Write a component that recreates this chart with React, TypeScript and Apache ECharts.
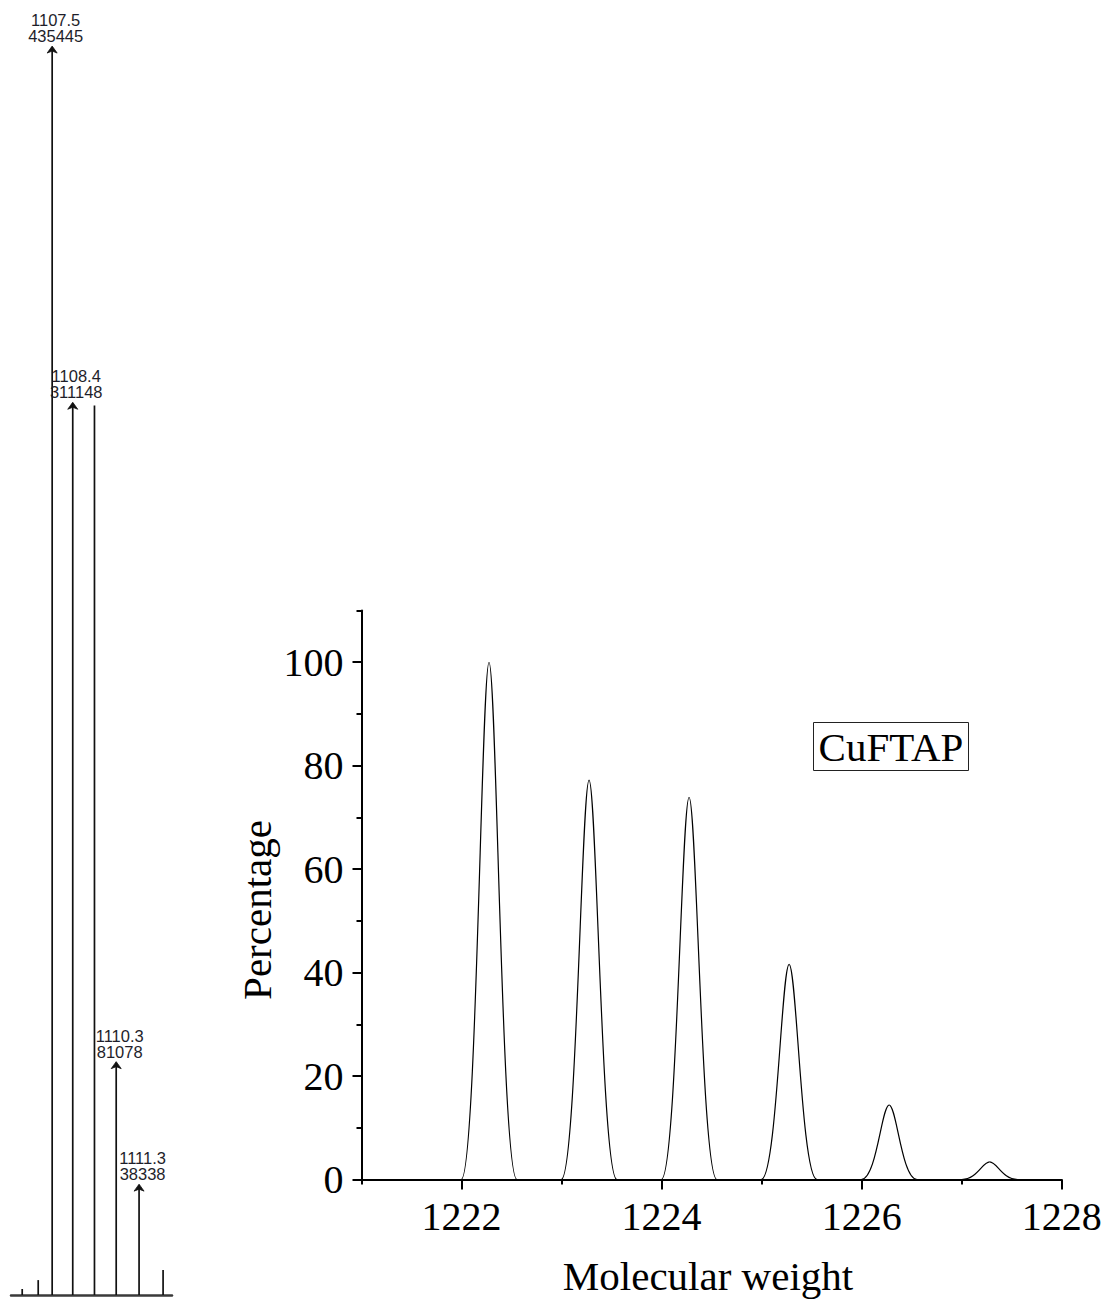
import React, { useEffect, useRef } from "react";
import * as echarts from "echarts";

// ---- Left panel: measured mass spectrum (stick plot) ----
const SPEC_MZ = [1106.19, 1106.89, 1107.5, 1108.4, 1109.35, 1110.3, 1111.3, 1112.35];
const SPEC_INTENSITY = [2100, 5200, 435445, 311148, 310400, 81078, 38338, 8700];
const SPEC_ANNOTATED = [false, false, true, true, false, true, true, false];

// ---- Right panel: simulated isotope pattern ----
const PEAK_MW = [1222.275, 1223.275, 1224.275, 1225.275, 1226.275, 1227.28];
const PEAK_PCT = [100, 77.2, 73.9, 41.6, 14.4, 3.4];

const X_MAJOR = [1222, 1224, 1226, 1228];
const X_MINOR = [1221, 1223, 1225, 1227];
const Y_MAJOR = [0, 20, 40, 60, 80, 100];
const Y_MINOR = [10, 30, 50, 70, 90, 110];

const X_NAME = "Molecular weight";
const Y_NAME = "Percentage";
const COMPOUND = "CuFTAP";

const PEAK_SIGMA = 0.093;
const SERIF = '"Liberation Serif", "Times New Roman", serif';
const SANS = '"Liberation Sans", Arial, sans-serif';

export default function App() {
  const ref = useRef<HTMLDivElement>(null);

  useEffect(() => {
    if (!ref.current) return;
    const chart = echarts.init(ref.current, undefined, { renderer: "svg" });

    const specData = SPEC_MZ.map((m, i) => [m, SPEC_INTENSITY[i]]);
    const peakData = PEAK_MW.map((m, i) => [m, PEAK_PCT[i]]);

    const option: any = {
      animation: false,
      backgroundColor: "#fff",
      grid: [
        { left: 11, width: 161, top: 34, height: 1261, outerBoundsMode: "none" },
        { left: 361.5, right: 48.3, top: 610.5, bottom: 125.5, outerBoundsMode: "none" },
      ],
      xAxis: [
        {
          gridIndex: 0,
          type: "value",
          min: 1105.7,
          max: 1112.74,
          axisLine: { show: true, onZero: false, lineStyle: { color: "#3a3a3a", width: 2.5 } },
          axisTick: { show: false },
          axisLabel: { show: false },
          splitLine: { show: false },
        },
        {
          gridIndex: 1,
          type: "value",
          position: "bottom",
          min: 1221,
          max: 1228,
          axisLine: { show: true, onZero: false, lineStyle: { color: "#000", width: 2 } },
          axisTick: {
            show: true,
            inside: false,
            length: 10,
            customValues: X_MAJOR,
            lineStyle: { color: "#000", width: 2 },
          },
          axisLabel: {
            show: true,
            customValues: X_MAJOR,
            formatter: (v: number) => String(v),
            margin: 17,
            fontFamily: SERIF,
            fontSize: 40,
            color: "#000",
          },
          splitLine: { show: false },
        },
        {
          gridIndex: 1,
          type: "value",
          position: "bottom",
          min: 1221,
          max: 1228,
          axisLine: { show: false },
          axisTick: {
            show: true,
            inside: false,
            length: 5,
            customValues: X_MINOR,
            lineStyle: { color: "#000", width: 2 },
          },
          axisLabel: { show: false },
          splitLine: { show: false },
        },
      ],
      yAxis: [
        {
          gridIndex: 0,
          type: "value",
          min: 0,
          max: 440000,
          show: false,
        },
        {
          gridIndex: 1,
          type: "value",
          position: "left",
          min: 0,
          max: 110,
          axisLine: { show: true, onZero: false, lineStyle: { color: "#000", width: 2 } },
          axisTick: {
            show: true,
            inside: false,
            length: 9,
            customValues: Y_MAJOR,
            lineStyle: { color: "#000", width: 2 },
          },
          axisLabel: {
            show: true,
            customValues: Y_MAJOR,
            formatter: (v: number) => String(v),
            margin: 18,
            fontFamily: SERIF,
            fontSize: 40,
            color: "#000",
          },
          splitLine: { show: false },
        },
        {
          gridIndex: 1,
          type: "value",
          position: "left",
          min: 0,
          max: 110,
          axisLine: { show: false },
          axisTick: {
            show: true,
            inside: false,
            length: 5,
            customValues: Y_MINOR,
            lineStyle: { color: "#000", width: 2 },
          },
          axisLabel: { show: false },
          splitLine: { show: false },
        },
      ],
      series: [
        {
          type: "custom",
          xAxisIndex: 0,
          yAxisIndex: 0,
          silent: true,
          encode: { x: 0, y: 1 },
          data: specData,
          renderItem: (params: any, api: any) => {
            const mz = api.value(0);
            const inten = api.value(1);
            const base = api.coord([mz, 0]);
            const top = api.coord([mz, inten]);
            const children: any[] = [
              {
                type: "line",
                shape: { x1: base[0], y1: base[1], x2: top[0], y2: top[1] },
                style: { stroke: "#111", lineWidth: 1.7 },
              },
            ];
            if (SPEC_ANNOTATED[params.dataIndex]) {
              const tx = top[0];
              const ty = top[1];
              children.push({
                type: "polygon",
                shape: {
                  points: [
                    [tx, ty - 1],
                    [tx - 5, ty + 6],
                    [tx, ty + 4],
                    [tx + 5, ty + 6],
                  ],
                },
                style: { fill: "#111", stroke: "#111", lineWidth: 0.8 },
              });
              children.push({
                type: "text",
                x: tx + 3.5,
                y: ty - 3,
                style: {
                  text: mz.toFixed(1) + "\n" + String(inten),
                  font: "16.5px " + SANS,
                  fill: "#1e1e2a",
                  textAlign: "center",
                  textVerticalAlign: "bottom",
                  lineHeight: 16,
                },
              });
            }
            return { type: "group", children };
          },
        },
        {
          type: "custom",
          xAxisIndex: 1,
          yAxisIndex: 1,
          silent: true,
          encode: { x: 0, y: 1 },
          data: peakData,
          renderItem: (params: any, api: any) => {
            const c = api.value(0);
            const h = api.value(1);
            const s = PEAK_SIGMA;
            const p = (x: number, y: number) => api.coord([x, y]);
            const L0 = p(c - 3 * s, 0);
            const L1 = p(c - 1.35 * s, 0);
            const L2 = p(c - 0.8 * s, h);
            const T = p(c, h);
            const R2 = p(c + 0.8 * s, h);
            const R1 = p(c + 1.35 * s, 0);
            const R0 = p(c + 3 * s, 0);
            const st = { stroke: "#000", lineWidth: 1.2, fill: "none" };
            return {
              type: "group",
              children: [
                {
                  type: "bezierCurve",
                  shape: {
                    x1: L0[0], y1: L0[1],
                    cpx1: L1[0], cpy1: L1[1],
                    cpx2: L2[0], cpy2: L2[1],
                    x2: T[0], y2: T[1],
                  },
                  style: st,
                },
                {
                  type: "bezierCurve",
                  shape: {
                    x1: T[0], y1: T[1],
                    cpx1: R2[0], cpy1: R2[1],
                    cpx2: R1[0], cpy2: R1[1],
                    x2: R0[0], y2: R0[1],
                  },
                  style: st,
                },
              ],
            };
          },
        },
      ],
      graphic: [
        {
          type: "rect",
          shape: { x: 813.5, y: 722.5, width: 155, height: 48 },
          style: { fill: "#fff", stroke: "#222", lineWidth: 1 },
          silent: true,
        },
        {
          type: "text",
          x: 891,
          y: 746.5,
          style: {
            text: COMPOUND,
            font: "41px " + SERIF,
            fill: "#000",
            textAlign: "center",
            textVerticalAlign: "middle",
          },
          silent: true,
        },
        {
          type: "text",
          x: 708,
          y: 1276,
          style: {
            text: X_NAME,
            font: "41px " + SERIF,
            fill: "#000",
            textAlign: "center",
            textVerticalAlign: "middle",
          },
          silent: true,
        },
        {
          type: "text",
          x: 257,
          y: 910,
          rotation: Math.PI / 2,
          style: {
            text: Y_NAME,
            font: "41px " + SERIF,
            fill: "#000",
            textAlign: "center",
            textVerticalAlign: "middle",
          },
          silent: true,
        },
      ],
    };

    chart.setOption(option);
    return () => chart.dispose();
  }, []);

  return (
    <div
      ref={ref}
      style={{ position: "absolute", left: 0, top: 0, width: 1110, height: 1305, background: "#fff" }}
    />
  );
}
